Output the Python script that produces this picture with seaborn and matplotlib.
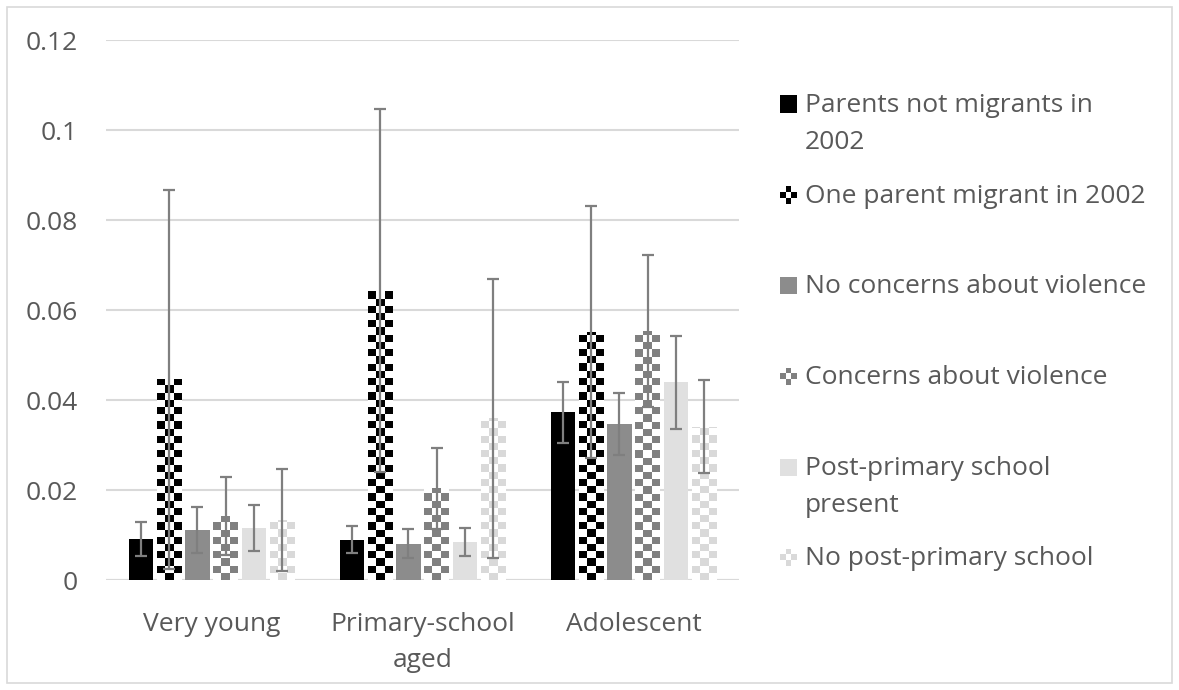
import numpy as np
import pandas as pd
import matplotlib
matplotlib.use("Agg")
import matplotlib.pyplot as plt
from matplotlib.colors import ListedColormap
from matplotlib.patches import Rectangle
import seaborn as sns

# ---- data -------------------------------------------------------------
categories = ["Very young", "Primary-school\naged", "Adolescent"]
series = [
    "Parents not migrants in\n2002",
    "One parent migrant in 2002",
    "No concerns about violence",
    "Concerns about violence",
    "Post-primary school\npresent",
    "No post-primary school",
]
parents_not_migrants = [0.0091, 0.0090, 0.0373]
one_parent_migrant = [0.0446, 0.0643, 0.0552]
no_violence_concerns = [0.0111, 0.0081, 0.0346]
violence_concerns = [0.0142, 0.0204, 0.0553]
post_primary_present = [0.0116, 0.0084, 0.0439]
no_post_primary = [0.0133, 0.0359, 0.0341]

parents_not_migrants_err = [0.0037, 0.0030, 0.0068]
one_parent_migrant_err = [0.0421, 0.0404, 0.0280]
no_violence_concerns_err = [0.0051, 0.0033, 0.0069]
violence_concerns_err = [0.0087, 0.0090, 0.0169]
post_primary_present_err = [0.0051, 0.0031, 0.0104]
no_post_primary_err = [0.0114, 0.0310, 0.0104]

values = [parents_not_migrants, one_parent_migrant, no_violence_concerns,
          violence_concerns, post_primary_present, no_post_primary]
errors = [parents_not_migrants_err, one_parent_migrant_err, no_violence_concerns_err,
          violence_concerns_err, post_primary_present_err, no_post_primary_err]

# ---- styles -----------------------------------------------------------
colors = ["#000000", "#000000", "#8c8c8c", "#808080", "#e0e0e0", "#d9d9d9"]
checkered = [False, True, False, True, False, True]
text_color = "#595959"
grid_color = "#d9d9d9"
err_color = "#7f7f7f"
font_size = 19

df = pd.DataFrame({
    "category": [c for s in series for c in categories],
    "series": [s for s in series for _ in categories],
    "value": [v for vals in values for v in vals],
})

sns.set_theme(style="white")
plt.rcParams["font.family"] = ["Open Sans", "DejaVu Sans"]

fig = plt.figure(figsize=(11.79, 6.9), dpi=100)
ax = fig.add_axes([106 / 1179, 1 - 580 / 690, 633 / 1179, 540 / 690])

sns.barplot(data=df, x="category", y="value", hue="series",
            order=categories, hue_order=series,
            palette=dict(zip(series, colors)),
            width=0.8, gap=0.14, errorbar=None, saturation=1,
            linewidth=0, legend=False, ax=ax)

ax.set_xlim(-0.5, 2.5)
ax.set_ylim(0, 0.12)
ax.set_yticks(np.arange(0, 0.121, 0.02))
ax.set_yticklabels(["0", "0.02", "0.04", "0.06", "0.08", "0.1", "0.12"])
ax.yaxis.grid(True, color=grid_color, linewidth=1.5)
ax.set_axisbelow(True)
for side in ["left", "right", "top", "bottom"]:
    ax.spines[side].set_visible(False)
ax.axhline(0, color=grid_color, linewidth=1.5, zorder=0.5)
ax.set_xlabel("")
ax.set_ylabel("")
ax.tick_params(axis="y", length=0, pad=20, labelsize=font_size, labelcolor=text_color)
ax.tick_params(axis="x", length=0, pad=23, labelsize=font_size, labelcolor=text_color)
for t in ax.get_xticklabels():
    t.set_linespacing(1.6)


def checker_fill(ax, patch, color, nx=3, cell_h=0.0016):
    """Paint a white/colour checkerboard inside a bar patch."""
    x, y = patch.get_x(), patch.get_y()
    w, h = patch.get_width(), patch.get_height()
    ny = int(np.ceil(h / cell_h)) + 1
    grid = np.add.outer(np.arange(ny), np.arange(nx)) % 2
    im = ax.imshow(grid, cmap=ListedColormap(["white", color]), vmin=0, vmax=1,
                   extent=(x, x + w, y, y + ny * cell_h), origin="lower",
                   aspect="auto", interpolation="nearest",
                   zorder=patch.get_zorder() + 0.1)
    im.set_clip_path(patch)


for cont, col, chk, errs in zip(ax.containers, colors, checkered, errors):
    xs, ys = [], []
    for bar in cont:
        xs.append(bar.get_x() + bar.get_width() / 2)
        ys.append(bar.get_height())
        if chk:
            checker_fill(ax, bar, col)
    ax.errorbar(xs, ys, yerr=errs, fmt="none", ecolor=err_color,
                elinewidth=1.6, capsize=4, capthick=1.6, zorder=5)

ax.set_xlim(-0.5, 2.5)
ax.set_ylim(0, 0.12)

# ---- legend -----------------------------------------------------------
W, H = 1179, 690
handle_x, handle_s = 780, 17
text_x = 805
entry_y = [104, 195, 285, 376, 467, 557]
for label, col, chk, yc in zip(series, colors, checkered, entry_y):
    if chk:
        cs = handle_s / 3
        for i in range(3):
            for j in range(3):
                fc = col if (i + j) % 2 == 1 else "white"
                fig.add_artist(Rectangle(((handle_x + j * cs) / W, 1 - (yc - handle_s / 2 + (i + 1) * cs) / H),
                                         cs / W, cs / H, transform=fig.transFigure,
                                         facecolor=fc, edgecolor="none"))
    else:
        fig.add_artist(Rectangle((handle_x / W, 1 - (yc + handle_s / 2) / H),
                                 handle_s / W, handle_s / H, transform=fig.transFigure,
                                 facecolor=col, edgecolor="none"))
    fig.text(text_x / W, 1 - (yc - 11) / H, label, ha="left", va="top",
             fontsize=font_size, color=text_color, linespacing=1.63)

# chart frame
fig.add_artist(Rectangle((7 / W, 7 / H), (W - 14) / W, (H - 14) / H,
                         transform=fig.transFigure, facecolor="none",
                         edgecolor=grid_color, linewidth=1.2))

fig.savefig("out.png", dpi=100, facecolor="white")
